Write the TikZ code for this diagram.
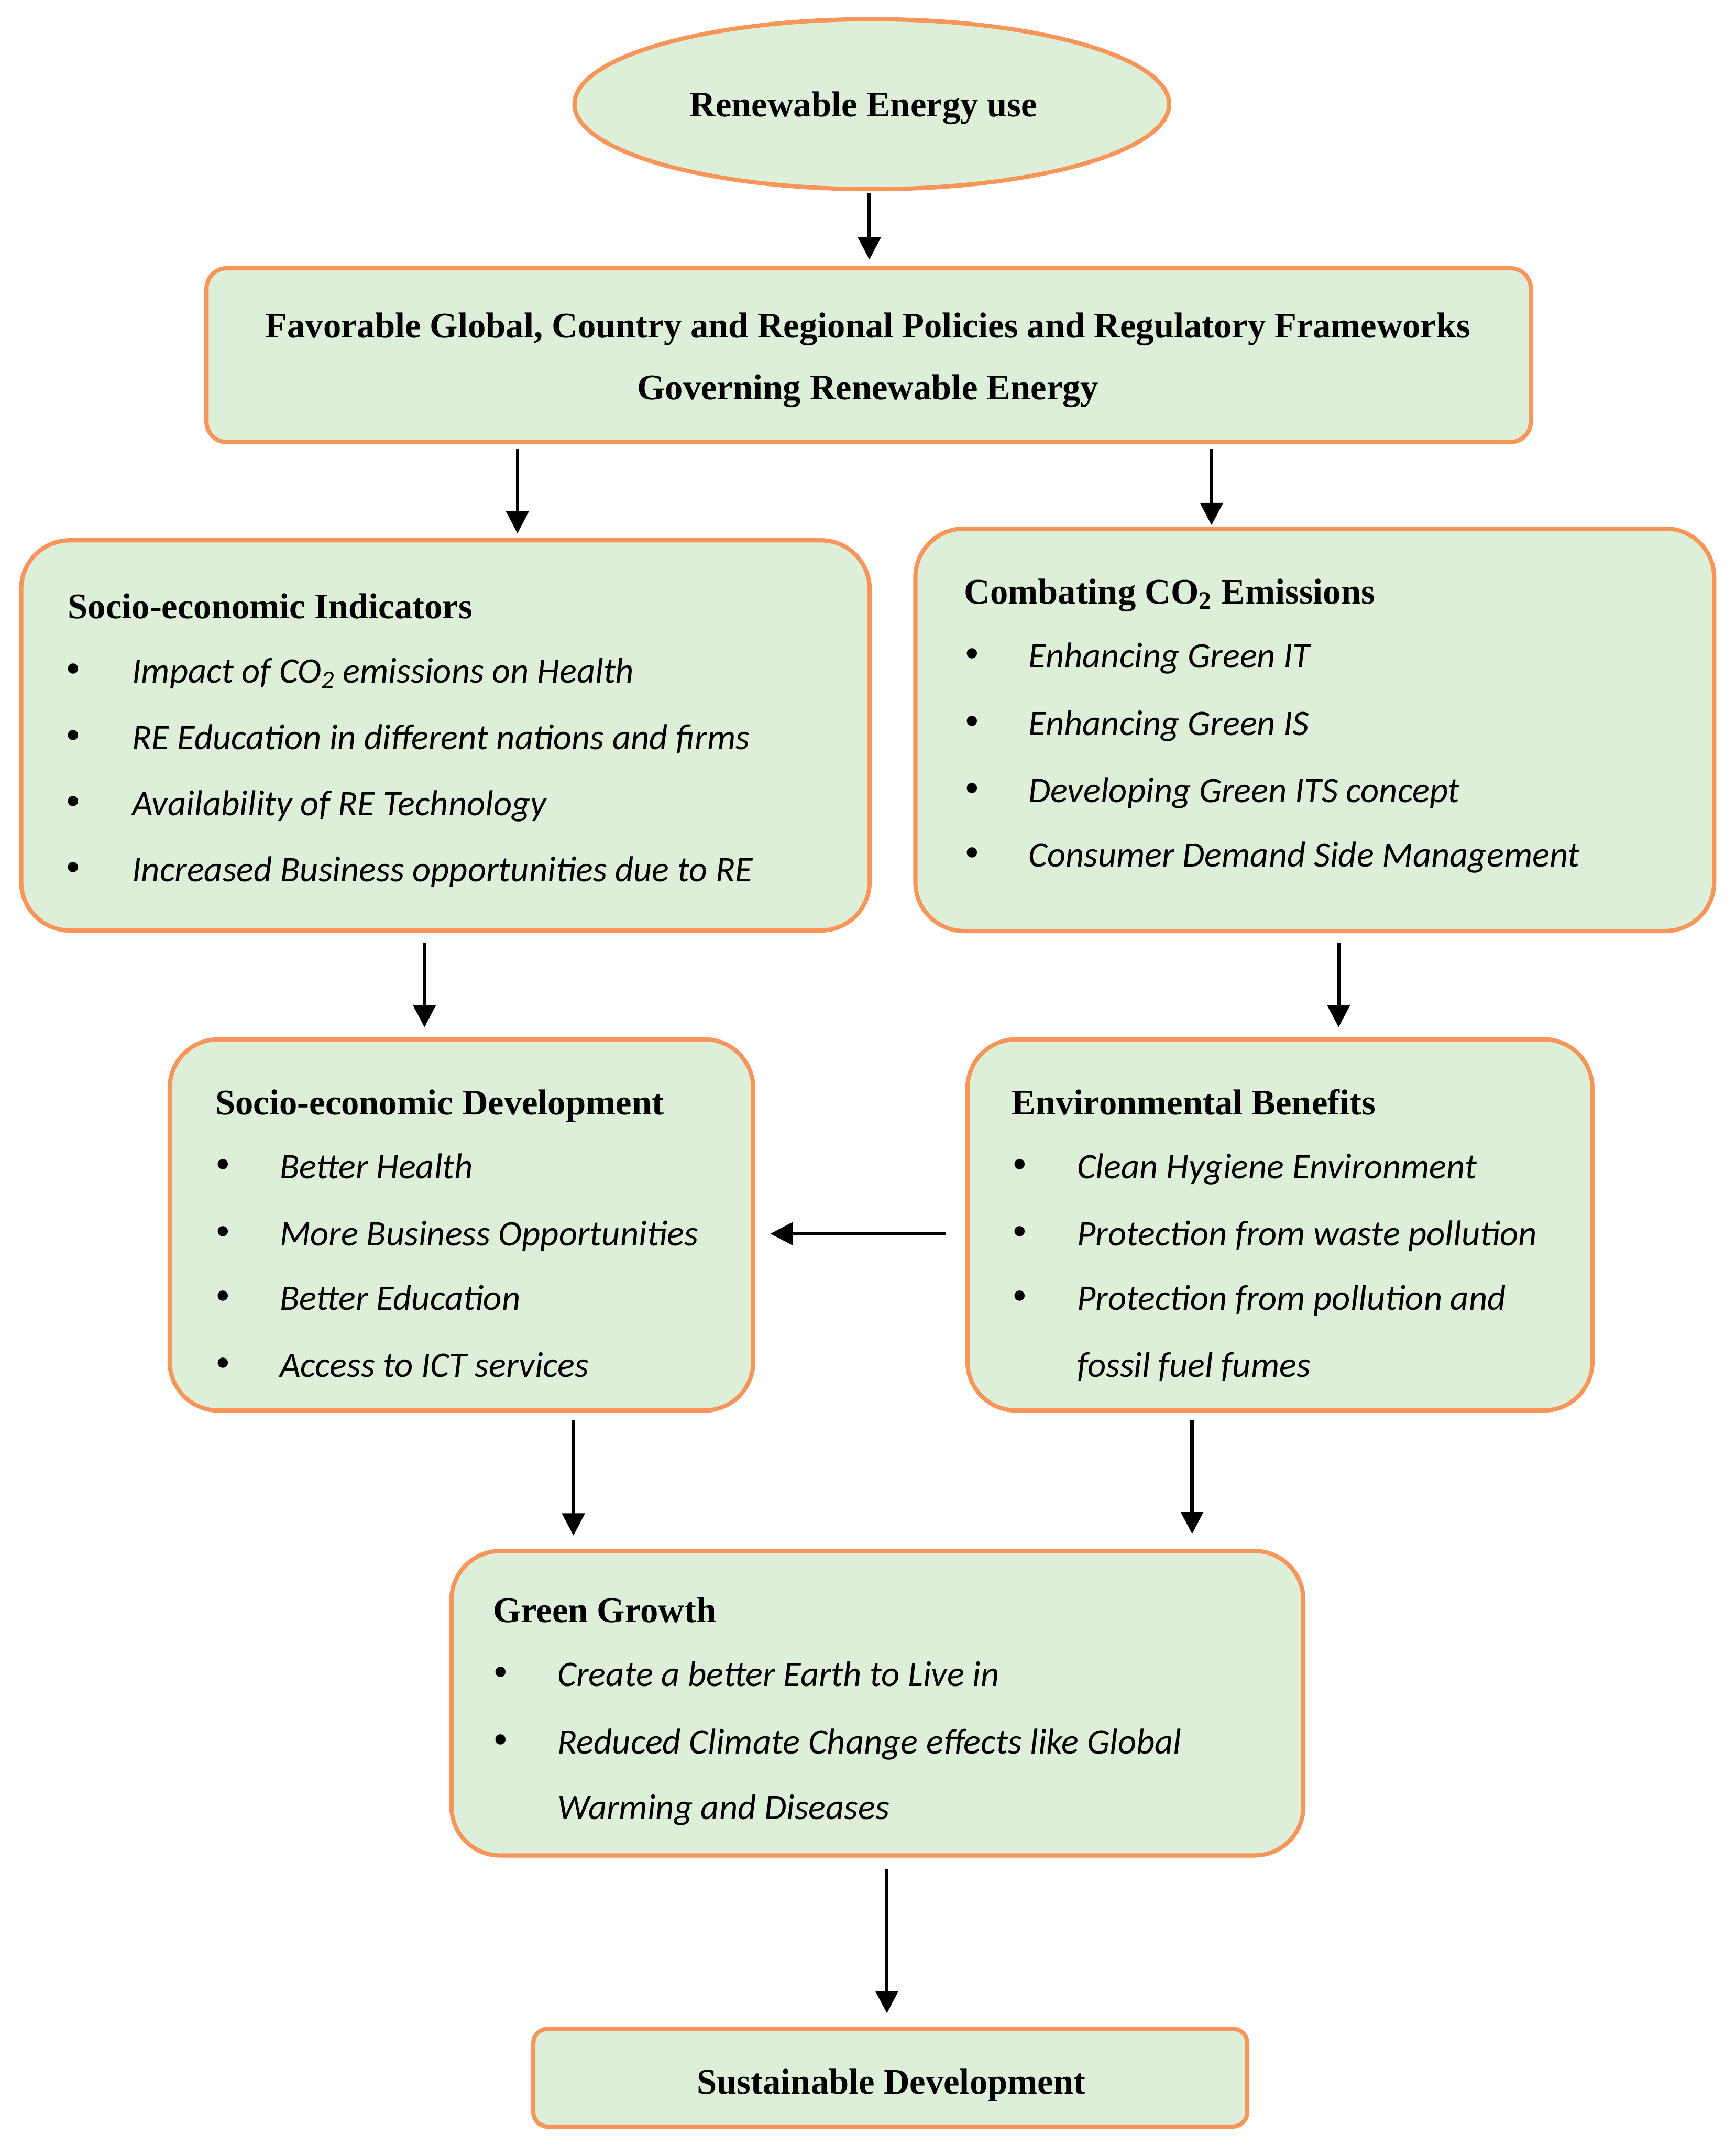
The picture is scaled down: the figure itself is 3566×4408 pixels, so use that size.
\documentclass[tikz,border=0pt]{standalone}
\usepackage{fontspec}
\setmainfont{Liberation Serif}
\newfontfamily\itemfont{Carlito}
\usetikzlibrary{shapes.geometric,arrows.meta}
\definecolor{boxfill}{RGB}{222,239,217}
\definecolor{boxline}{RGB}{247,150,90}
\begin{document}
\begin{tikzpicture}[x=0.01cm,y=-0.01cm,
 box/.style={draw=boxline, fill=boxfill, line width=2.5pt, rectangle, rounded corners=1cm, inner sep=0, outer sep=0},
 ttl/.style={font=\fontsize{21}{25}\selectfont\bfseries, inner sep=0, anchor=base west},
 ctr/.style={font=\fontsize{21}{25}\selectfont\bfseries, inner sep=0, anchor=base},
 itm/.style={font=\fontsize{21}{25}\selectfont\itemfont\itshape, inner sep=0, anchor=base west},
 bul/.style={font=\fontsize{25}{29}\selectfont, inner sep=0, anchor=base},
 arr/.style={line width=2pt, -{Triangle[length=13pt,width=13pt]}}]
\useasboundingbox (0,0) rectangle (3566,4408);
% boxes
\node[box, ellipse, rounded corners=0, minimum width=12.21cm, minimum height=3.49cm] (ell) at (1791,214) {};
\node[box, rounded corners=0.42cm, minimum width=27.19cm, minimum height=3.57cm] (pol) at (1784.5,729.5) {};
\node[box, minimum width=17.42cm, minimum height=8.01cm] (sei) at (915,1510.5) {};
\node[box, minimum width=16.40cm, minimum height=8.26cm] (co2) at (2701,1499) {};
\node[box, minimum width=11.98cm, minimum height=7.62cm] (sed) at (948,2516) {};
\node[box, minimum width=12.83cm, minimum height=7.62cm] (env) at (2629.5,2516) {};
\node[box, minimum width=17.49cm, minimum height=6.25cm] (gg) at (1802.5,3498.5) {};
\node[box, rounded corners=0.3cm, minimum width=14.66cm, minimum height=2.01cm] (sd) at (1829,4267.5) {};
% texts
\node[ctr] (t-ell) at (1774,239) {Renewable Energy use};
\node[ctr] (t-pol1) at (1783,694) {Favorable Global, Country and Regional Policies and Regulatory Frameworks};
\node[ctr] (t-pol2) at (1783,821) {Governing Renewable Energy};
% sei
\node[ttl] (t-sei) at (139,1270) {Socio-economic Indicators};
\node[bul] (b-sei1) at (150,1403) {\textbullet};
\node[bul] (b-sei2) at (150,1539) {\textbullet};
\node[bul] (b-sei3) at (150,1675) {\textbullet};
\node[bul] (b-sei4) at (150,1811) {\textbullet};
\node[itm] (i-sei1) at (271,1403) {Impact of CO\textsubscript{2} emissions on Health};
\node[itm] (i-sei2) at (271,1539) {RE Education in different nations and firms};
\node[itm] (i-sei3) at (271,1675) {Availability of RE Technology};
\node[itm] (i-sei4) at (271,1811) {Increased Business opportunities due to RE};
% co2
\node[ttl] (t-co2) at (1980,1240) {Combating CO\textsubscript{2} Emissions};
\node[bul] (b-co21) at (1997,1372) {\textbullet};
\node[bul] (b-co22) at (1997,1510) {\textbullet};
\node[bul] (b-co23) at (1997,1648) {\textbullet};
\node[bul] (b-co24) at (1997,1780) {\textbullet};
\node[itm] (i-co21) at (2112,1372) {Enhancing Green IT};
\node[itm] (i-co22) at (2112,1510) {Enhancing Green IS};
\node[itm] (i-co23) at (2112,1648) {Developing Green ITS concept};
\node[itm] (i-co24) at (2112,1780) {Consumer Demand Side Management};
% sed
\node[ttl] (t-sed) at (442,2289) {Socio-economic Development};
\node[bul] (b-sed1) at (458,2421) {\textbullet};
\node[bul] (b-sed2) at (458,2559) {\textbullet};
\node[bul] (b-sed3) at (458,2691) {\textbullet};
\node[bul] (b-sed4) at (458,2829) {\textbullet};
\node[itm] (i-sed1) at (574,2421) {Better Health};
\node[itm] (i-sed2) at (574,2559) {More Business Opportunities};
\node[itm] (i-sed3) at (574,2691) {Better Education};
\node[itm] (i-sed4) at (574,2829) {Access to ICT services};
% env
\node[ttl] (t-env) at (2078,2289) {Environmental Benefits};
\node[bul] (b-env1) at (2095,2421) {\textbullet};
\node[bul] (b-env2) at (2095,2559) {\textbullet};
\node[bul] (b-env3) at (2095,2691) {\textbullet};
\node[itm] (i-env1) at (2212,2421) {Clean Hygiene Environment};
\node[itm] (i-env2) at (2212,2559) {Protection from waste pollution};
\node[itm] (i-env3) at (2212,2691) {Protection from pollution and};
\node[itm] (i-env4) at (2212,2829) {fossil fuel fumes};
% gg
\node[ttl] (t-gg) at (1012,3332) {Green Growth};
\node[bul] (b-gg1) at (1029,3464) {\textbullet};
\node[bul] (b-gg2) at (1029,3602) {\textbullet};
\node[itm] (i-gg1) at (1145,3464) {Create a better Earth to Live in};
\node[itm] (i-gg2) at (1145,3602) {Reduced Climate Change effects like Global};
\node[itm] (i-gg3) at (1145,3737) {Warming and Diseases};
% sd
\node[ctr] (t-sd) at (1831,4301) {Sustainable Development};
% arrow x positions
\coordinate (x1) at (1786,0);
\coordinate (x2) at (1063,0);
\coordinate (x3) at (2489,0);
\coordinate (x4) at (872,0);
\coordinate (x5) at (2750,0);
\coordinate (x6) at (1178,0);
\coordinate (x7) at (2449,0);
\coordinate (x8) at (1822,0);
\coordinate (y6) at (0,2534);
\draw[arr, shorten <=2pt, shorten >=5pt] (ell.south -| x1) -- (pol.north -| x1);
\draw[arr, shorten <=4pt, shorten >=4pt] (pol.south -| x2) -- (sei.north -| x2);
\draw[arr, shorten <=4pt, shorten >=2pt] (pol.south -| x3) -- (co2.north -| x3);
\draw[arr, shorten <=7pt, shorten >=7pt] (sei.south -| x4) -- (sed.north -| x4);
\draw[arr, shorten <=7pt, shorten >=7pt] (co2.south -| x5) -- (env.north -| x5);
\draw[arr, shorten <=12.5pt, shorten >=10pt] (env.west |- y6) -- (sed.east |- y6);
\draw[arr, shorten <=5.4pt, shorten >=9pt] (sed.south -| x6) -- (gg.north -| x6);
\draw[arr, shorten <=5.4pt, shorten >=10pt] (env.south -| x7) -- (gg.north -| x7);
\draw[arr, shorten <=7.7pt, shorten >=9pt] (gg.south -| x8) -- (sd.north -| x8);
\end{tikzpicture}
\end{document}
